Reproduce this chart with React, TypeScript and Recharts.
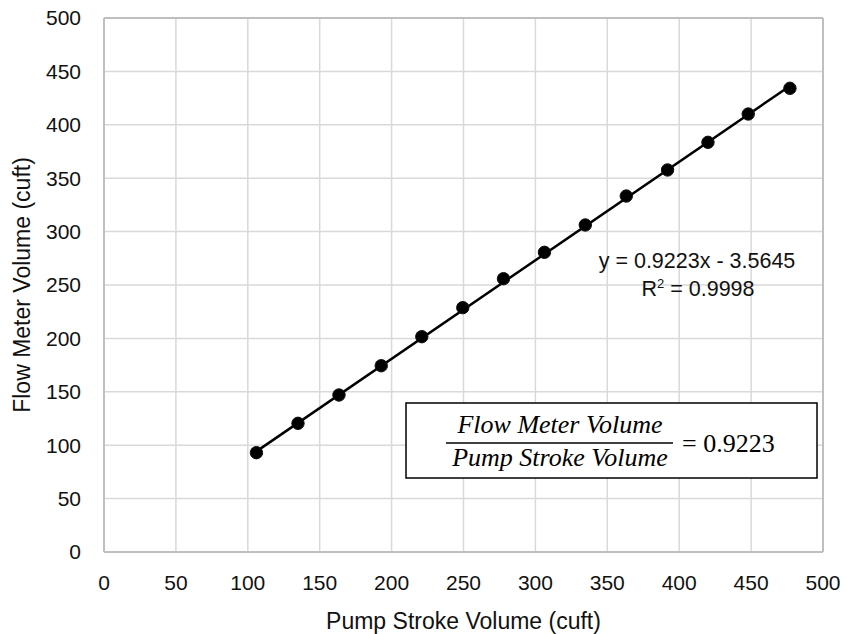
import {
  ScatterChart,
  Scatter,
  XAxis,
  YAxis,
  CartesianGrid,
  ReferenceLine
} from 'recharts'

// pump stroke volume (cuft) vs flow meter volume (cuft)
const pumpStroke = [106, 134.9, 163.4, 192.8, 221, 249.5, 277.8, 306.3, 334.7, 363.2, 391.9, 420, 448, 477]
const flowMeter = [93, 120.5, 147, 174.4, 201.6, 228.8, 255.9, 280.6, 306.2, 333.3, 357.7, 383.6, 410.1, 434.2]
const axisTicks = [0, 50, 100, 150, 200, 250, 300, 350, 400, 450, 500]

const slope = 0.9223
const intercept = -3.5645
const r2 = '0.9998'

const points = pumpStroke.map((x, i) => ({ x, y: flowMeter[i] }))
const fit = (x: number) => slope * x + intercept
const xMin = pumpStroke[0]
const xMax = pumpStroke[pumpStroke.length - 1]

const font = '"Liberation Sans", Arial, sans-serif'
const serif = '"Liberation Serif", serif'
const tickStyle = { fontSize: 21, fill: '#111', fontFamily: font }
const titleStyle = { fontSize: 23, fill: '#111', fontFamily: font }

const Dot = (p: any) => <circle cx={p.cx} cy={p.cy} r={6.2} fill="#000" stroke="#111" strokeWidth={1} />

export default function App() {
  return (
    <div style={{ position: 'absolute', left: 0, top: 0, width: 847, height: 634, background: '#fff' }}>
      <ScatterChart width={847} height={634} margin={{ top: 18, right: 24, bottom: 0, left: 0 }}>
        <CartesianGrid stroke="#d9d9d9" strokeWidth={1.5} />
        <XAxis
          type="number"
          dataKey="x"
          domain={[0, 500]}
          ticks={axisTicks}
          height={82}
          tickLine={false}
          tickSize={0}
          tickMargin={23}
          tick={tickStyle}
          axisLine={{ stroke: '#bfbfbf', strokeWidth: 2 }}
          label={{
            value: 'Pump Stroke Volume (cuft)',
            position: 'insideBottom',
            offset: 5,
            style: titleStyle
          }}
        />
        <YAxis
          type="number"
          dataKey="y"
          domain={[0, 500]}
          ticks={axisTicks}
          width={104}
          tickLine={false}
          tickSize={0}
          tickMargin={23}
          tick={tickStyle}
          axisLine={{ stroke: '#bfbfbf', strokeWidth: 2 }}
          label={{
            value: 'Flow Meter Volume (cuft)',
            angle: -90,
            position: 'insideLeft',
            offset: 22,
            style: { ...titleStyle, textAnchor: 'middle' }
          }}
        />
        <ReferenceLine x={500} stroke="#bfbfbf" strokeWidth={2} />
        <ReferenceLine y={500} stroke="#bfbfbf" strokeWidth={2} />
        <ReferenceLine
          segment={[{ x: xMin, y: fit(xMin) }, { x: xMax, y: fit(xMax) }]}
          stroke="#000"
          strokeWidth={2.5}
        />
        <Scatter data={points} shape={Dot} isAnimationActive={false} />
      </ScatterChart>

      <svg width={847} height={634} style={{ position: 'absolute', left: 0, top: 0, pointerEvents: 'none' }}>
        <text x={697} y={268} textAnchor="middle" fontSize={21.5} fontFamily={font} fill="#111">
          {`y = ${slope}x - ${Math.abs(intercept)}`}
        </text>
        <text x={698} y={296} textAnchor="middle" fontSize={21.5} fontFamily={font} fill="#111">
          R<tspan dy={-8} fontSize={13}>2</tspan>
          <tspan dy={8}>{` = ${r2}`}</tspan>
        </text>

        <rect x={406} y={403} width={411} height={75} fill="#fff" stroke="#000" strokeWidth={1.5} />
        <text x={560} y={433} textAnchor="middle" fontSize={26} fontStyle="italic" fontFamily={serif} fill="#000">
          Flow Meter Volume
        </text>
        <line x1={446} x2={673} y1={443} y2={443} stroke="#000" strokeWidth={1.5} />
        <text x={560} y={466} textAnchor="middle" fontSize={26} fontStyle="italic" fontFamily={serif} fill="#000">
          Pump Stroke Volume
        </text>
        <text x={682} y={452} fontSize={26} fontFamily={serif} fill="#000">
          = {slope}
        </text>
      </svg>
    </div>
  )
}
